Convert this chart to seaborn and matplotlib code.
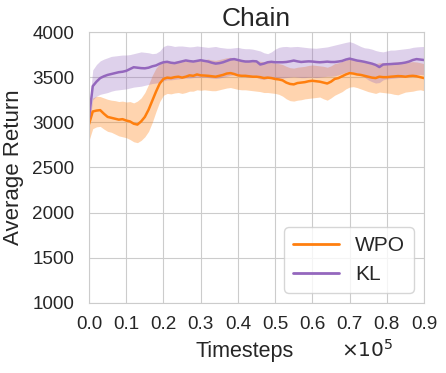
import numpy as np
import pandas as pd
import seaborn as sns
import matplotlib
matplotlib.use('Agg')
import matplotlib.pyplot as plt

# Values (timesteps in units of 1e5, step 0.01)
wpo_mean = [2980, 3120, 3130, 3135, 3095, 3060, 3050, 3040, 3030, 3035,
            3020, 3010, 2985, 2975, 3010, 3060, 3140, 3240, 3340, 3430,
            3480, 3495, 3490, 3500, 3505, 3495, 3505, 3520, 3515, 3530,
            3520, 3518, 3515, 3510, 3505, 3515, 3525, 3540, 3545, 3535,
            3520, 3515, 3515, 3510, 3505, 3505, 3500, 3490, 3495, 3490,
            3480, 3475, 3465, 3440, 3425, 3420, 3435, 3440, 3445, 3455,
            3460, 3455, 3450, 3440, 3430, 3450, 3480, 3490, 3510, 3530,
            3545, 3540, 3530, 3525, 3515, 3505, 3495, 3490, 3505, 3500,
            3500, 3505, 3508, 3512, 3510, 3505, 3512, 3515, 3510, 3500,
            3490]
wpo_upper = [3050, 3270, 3290, 3285, 3270, 3255, 3245, 3240, 3230, 3235,
             3225, 3230, 3215, 3235, 3270, 3330, 3420, 3520, 3600, 3650,
             3665, 3675, 3670, 3675, 3680, 3670, 3680, 3690, 3685, 3695,
             3690, 3695, 3700, 3690, 3685, 3695, 3705, 3715, 3720, 3710,
             3700, 3695, 3690, 3690, 3685, 3685, 3675, 3670, 3670, 3665,
             3655, 3650, 3640, 3620, 3605, 3600, 3610, 3615, 3620, 3630,
             3635, 3630, 3625, 3620, 3610, 3625, 3650, 3660, 3675, 3690,
             3705, 3700, 3690, 3685, 3675, 3665, 3655, 3650, 3660, 3660,
             3658, 3662, 3665, 3670, 3668, 3662, 3668, 3672, 3668, 3660,
             3650]
wpo_lower = [2800, 2930, 2950, 2955, 2925, 2900, 2890, 2870, 2850, 2840,
             2830, 2810, 2785, 2775, 2800, 2840, 2900, 3000, 3120, 3230,
             3300, 3320, 3315, 3325, 3330, 3320, 3330, 3345, 3345, 3360,
             3355, 3360, 3355, 3350, 3350, 3360, 3370, 3380, 3385, 3375,
             3365, 3360, 3360, 3355, 3350, 3345, 3340, 3330, 3330, 3325,
             3320, 3310, 3290, 3260, 3240, 3235, 3245, 3250, 3260, 3265,
             3270, 3275, 3280, 3260, 3245, 3270, 3300, 3320, 3340, 3370,
             3390, 3395, 3385, 3370, 3355, 3340, 3330, 3320, 3335, 3330,
             3325, 3320, 3310, 3305, 3320, 3335, 3340, 3345, 3355, 3360,
             3350]

kl_mean = [3050, 3400, 3450, 3490, 3510, 3525, 3535, 3545, 3555, 3560,
           3570, 3590, 3610, 3605, 3600, 3598, 3605, 3620, 3630, 3650,
           3665, 3670, 3660, 3655, 3665, 3675, 3685, 3678, 3673, 3680,
           3688, 3680, 3673, 3660, 3650, 3655, 3665, 3680, 3695, 3700,
           3690, 3680, 3673, 3673, 3678, 3675, 3640, 3650, 3665, 3670,
           3665, 3665, 3665, 3668, 3675, 3684, 3675, 3668, 3672, 3675,
           3673, 3668, 3665, 3668, 3672, 3668, 3668, 3673, 3680, 3695,
           3705, 3695, 3684, 3678, 3670, 3660, 3650, 3636, 3612, 3640,
           3643, 3645, 3648, 3650, 3655, 3662, 3673, 3690, 3700, 3695,
           3690]
kl_upper = [3150, 3580, 3640, 3680, 3700, 3715, 3730, 3735, 3740, 3745,
            3745, 3750, 3760, 3770, 3780, 3775, 3770, 3760, 3765, 3790,
            3840, 3855, 3850, 3840, 3845, 3845, 3840, 3835, 3838, 3845,
            3840, 3835, 3830, 3835, 3840, 3830, 3825, 3820, 3820, 3825,
            3830, 3820, 3815, 3815, 3810, 3800, 3790, 3770, 3760, 3780,
            3810, 3830, 3838, 3840, 3835, 3838, 3840, 3835, 3830, 3825,
            3822, 3820, 3825, 3830, 3835, 3845, 3855, 3865, 3875, 3885,
            3893, 3880, 3860, 3840, 3825, 3820, 3810, 3795, 3785, 3780,
            3790, 3800, 3800, 3805, 3810, 3815, 3820, 3830, 3835, 3838,
            3840]
kl_lower = [2950, 3250, 3290, 3310, 3320, 3330, 3345, 3355, 3360, 3365,
            3370, 3380, 3390, 3395, 3400, 3410, 3420, 3430, 3435, 3445,
            3460, 3470, 3470, 3475, 3480, 3485, 3490, 3490, 3495, 3500,
            3500, 3500, 3495, 3490, 3485, 3490, 3500, 3510, 3520, 3525,
            3520, 3510, 3505, 3500, 3505, 3500, 3480, 3475, 3485, 3490,
            3495, 3490, 3490, 3495, 3500, 3505, 3500, 3495, 3495, 3500,
            3500, 3495, 3500, 3505, 3510, 3510, 3515, 3525, 3540, 3555,
            3565, 3555, 3545, 3530, 3500, 3470, 3450, 3435, 3440, 3470,
            3480, 3485, 3490, 3495, 3500, 3505, 3510, 3520, 3530, 3530,
            3525]

methods = ['WPO', 'KL']
colors = ['#ff7f0e', '#9467bd']
timesteps = np.linspace(0, 0.9, len(wpo_mean))
xtick_labels = ['0.0', '0.1', '0.2', '0.3', '0.4', '0.5', '0.6', '0.7', '0.8', '0.9']

df = pd.DataFrame({
    'Timesteps': np.concatenate([timesteps, timesteps]),
    'Average Return': wpo_mean + kl_mean,
    'method': ['WPO'] * len(wpo_mean) + ['KL'] * len(kl_mean),
})

sns.set_style('whitegrid')
plt.rcParams['font.family'] = ['Liberation Sans', 'DejaVu Sans']

fig, ax = plt.subplots(figsize=(4.46, 3.73), dpi=100)
plt.subplots_adjust(left=0.1996, right=0.9507, top=0.9142, bottom=0.1877)

# Shaded bands
ax.fill_between(timesteps, wpo_lower, wpo_upper, color=colors[0], alpha=0.33, linewidth=0)
ax.fill_between(timesteps, kl_lower, kl_upper, color=colors[1], alpha=0.3, linewidth=0)

sns.lineplot(data=df, x='Timesteps', y='Average Return', hue='method',
             hue_order=methods, palette=colors, linewidth=1.8, ax=ax)

ax.set_xlim(0, 0.9)
ax.set_ylim(1000, 4000)
ax.set_xticks(np.linspace(0, 0.9, len(xtick_labels)))
ax.set_xticklabels(xtick_labels)
ax.set_yticks(np.arange(1000, 4001, 500))
ax.tick_params(axis='both', labelsize=13.6, length=0, colors='.15')
ax.tick_params(axis='x', pad=9.5)
ax.tick_params(axis='y', pad=10.5)

ax.set_title('Chain', fontsize=19, pad=4)
ax.set_xlabel('Timesteps', fontsize=15.5)
ax.set_ylabel('Average Return', fontsize=16, labelpad=6)
ax.xaxis.label.set_va('baseline')
ax.xaxis.set_label_coords(0.464, -0.199)
ax.text(0.83, -0.199, r'$\times10^5$', transform=ax.transAxes, fontsize=14.5,
        ha='center', va='baseline', color='.15')

leg = ax.legend(loc='lower right', fontsize=15, handlelength=2.2)
for line in leg.get_lines():
    line.set_linewidth(2)

plt.savefig('out.png', dpi=100)
